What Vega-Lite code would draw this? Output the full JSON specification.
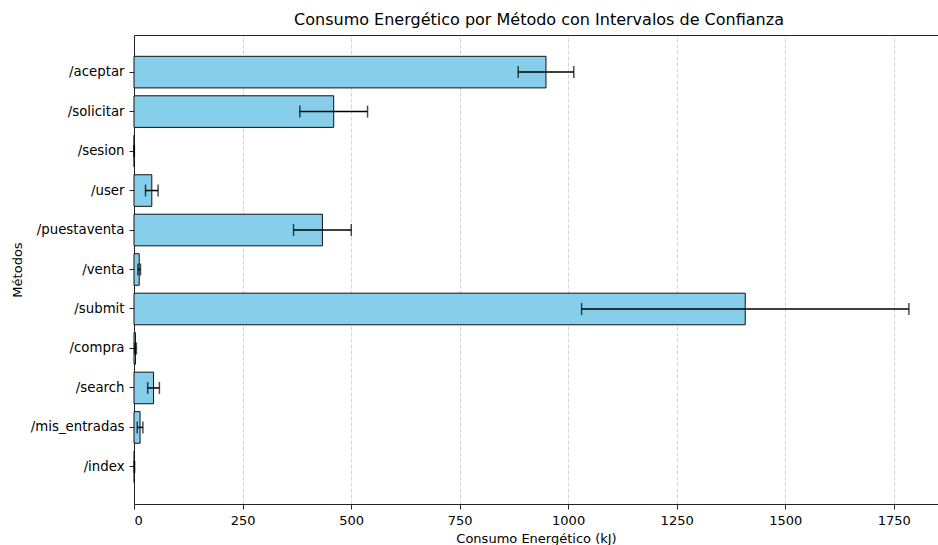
{
  "$schema": "https://vega.github.io/schema/vega-lite/v6.json",
  "width": 804,
  "height": 469,
  "autosize": {"type": "none"},
  "padding": {"left": 134, "top": 35, "right": 0, "bottom": 41},
  "background": "white",
  "title": {"text": "Consumo Energético por Método con Intervalos de Confianza", "fontSize": 16, "fontWeight": "normal", "font": "DejaVu Sans", "color": "black", "frame": "group", "offset": 7, "dx": 3},
  "config": {
    "font": "DejaVu Sans",
    "view": {"stroke": null},
    "axis": {"labelFont": "DejaVu Sans", "titleFont": "DejaVu Sans", "labelColor": "black", "titleColor": "black", "labelFontSize": 13, "titleFontSize": 13, "titleFontWeight": "normal", "tickColor": "#222", "domainColor": "#222", "domainWidth": 1, "tickWidth": 1, "tickSize": 5, "labelPadding": 5}
  },
  "data": {"values": [
    {"metodo": "/aceptar", "consumo": 949, "error": 64},
    {"metodo": "/solicitar", "consumo": 460, "error": 78},
    {"metodo": "/sesion", "consumo": 0.5, "error": 0.3},
    {"metodo": "/user", "consumo": 41, "error": 14.5},
    {"metodo": "/puestaventa", "consumo": 434, "error": 66.5},
    {"metodo": "/venta", "consumo": 12, "error": 3},
    {"metodo": "/submit", "consumo": 1408, "error": 377},
    {"metodo": "/compra", "consumo": 3.5, "error": 2},
    {"metodo": "/search", "consumo": 45, "error": 13.5},
    {"metodo": "/mis_entradas", "consumo": 14, "error": 6.5},
    {"metodo": "/index", "consumo": 1, "error": 0.5}
  ]},
  "layer": [
    {
      "mark": {"type": "bar", "fill": "#87CEEB", "stroke": "#111", "strokeWidth": 1},
      "encoding": {
        "y": {"field": "metodo", "type": "nominal", "sort": null, "scale": {"paddingInner": 0.2, "paddingOuter": 0.54}, "axis": {"title": "Métodos", "titlePadding": 6, "labelFontSize": 13.3, "grid": false, "domain": true}},
        "x": {"field": "consumo", "type": "quantitative", "scale": {"domain": [0, 1852], "nice": false, "zero": true}, "axis": {"title": "Consumo Energético (kJ)", "titlePadding": 5, "format": "d", "values": [0, 250, 500, 750, 1000, 1250, 1500, 1750], "grid": true, "gridColor": "#bbbbbb", "gridDash": [4, 2], "gridWidth": 0.8, "gridOpacity": 0.8, "domain": true}}
      }
    },
    {
      "mark": {"type": "errorbar", "ticks": {"size": 12, "thickness": 1.5, "color": "black"}, "rule": {"strokeWidth": 1.5, "color": "black"}, "color": "black"},
      "encoding": {
        "y": {"field": "metodo", "type": "nominal", "sort": null},
        "x": {"field": "consumo", "type": "quantitative", "axis": {"orient": "top", "title": null, "labels": false, "ticks": false, "grid": false, "domain": true}},
        "xError": {"field": "error"}
      }
    }
  ],
  "resolve": {"axis": {"x": "independent"}}
}
